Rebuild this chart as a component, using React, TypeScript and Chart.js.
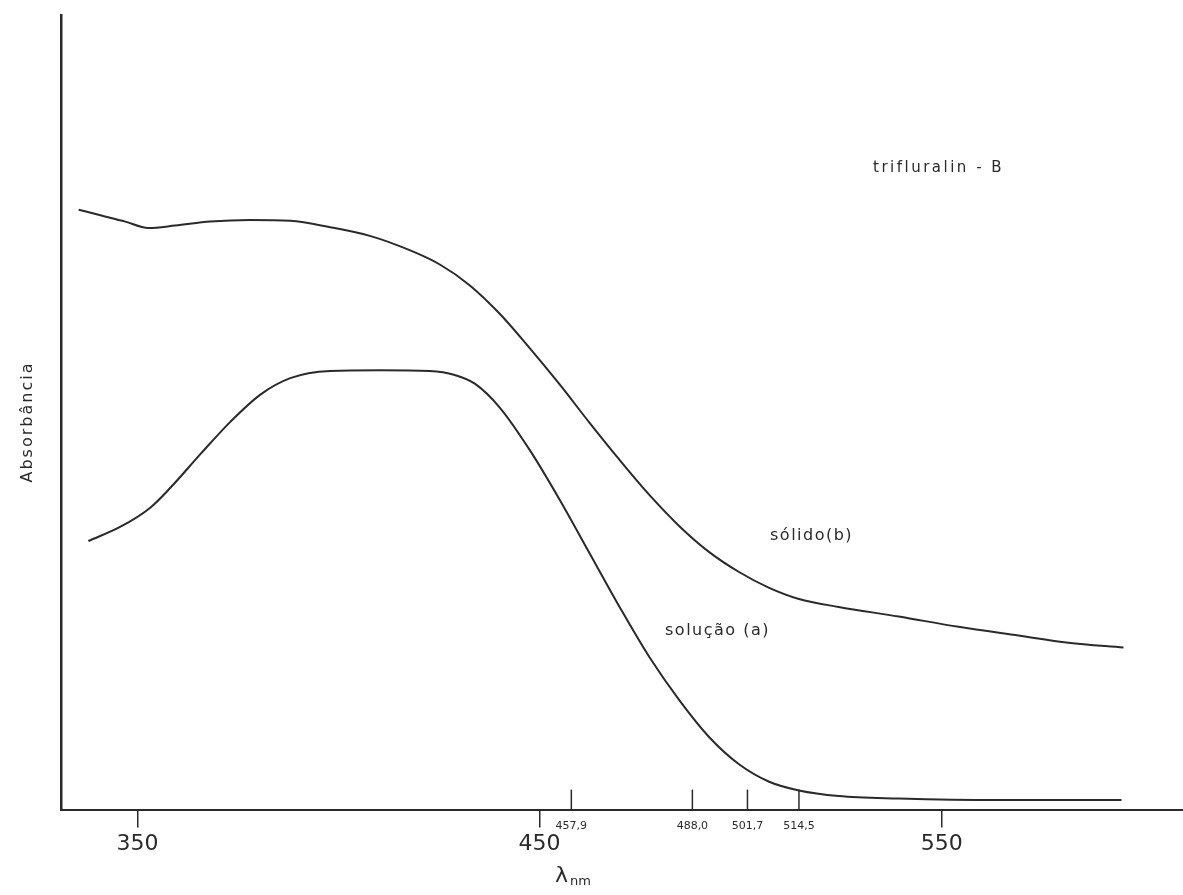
import React, { useEffect, useRef } from "react";
import { Chart, registerables } from "chart.js";

Chart.register(...registerables);

// wavelength (nm) of the sampled points
const solidoNm = [335.4, 340.8, 347.0, 352.7, 359.4, 368.1, 378.0, 388.0, 397.9, 407.8, 417.7, 425.2, 432.6, 440.1, 447.5, 455.0, 462.4, 469.9, 477.3, 484.7, 492.2, 499.6, 507.1, 514.5, 524.4, 539.3, 554.2, 569.1, 581.5, 595.2];
const solidoAbs = [0.755, 0.748, 0.740, 0.732, 0.735, 0.740, 0.742, 0.741, 0.733, 0.722, 0.704, 0.686, 0.660, 0.624, 0.581, 0.535, 0.487, 0.440, 0.396, 0.357, 0.324, 0.299, 0.279, 0.265, 0.255, 0.243, 0.230, 0.219, 0.210, 0.204];

const solucaoNm = [337.8, 345.8, 353.2, 358.2, 365.6, 373.1, 380.5, 388.0, 397.9, 410.3, 422.7, 428.9, 433.9, 440.1, 447.5, 455.0, 462.4, 469.9, 477.3, 484.7, 492.2, 499.6, 507.1, 514.5, 524.4, 539.3, 564.1, 594.7];
const solucaoAbs = [0.338, 0.356, 0.380, 0.405, 0.447, 0.488, 0.522, 0.543, 0.552, 0.553, 0.552, 0.547, 0.536, 0.506, 0.453, 0.390, 0.323, 0.255, 0.192, 0.138, 0.091, 0.057, 0.035, 0.024, 0.017, 0.014, 0.012, 0.012];

const axisTicks = [350, 450, 550];
const laserLines = [457.9, 488.0, 501.7, 514.5];

const seriesLabels = ["sólido(b)", "solução (a)"];
const titleText = "trifluralin - B";
const yTitle = "Absorbância";

const FONT = "'DejaVu Sans', 'Noto Sans', sans-serif";
const INK = "#2a2a2a";

const annotPlugin = {
  id: "annot",
  afterDraw(chart: any) {
    const ctx = chart.ctx;
    const xs = chart.scales.x;
    const area = chart.chartArea;
    ctx.save();
    ctx.fillStyle = INK;
    ctx.strokeStyle = INK;
    // laser lines: short ticks upward from the axis, with small labels
    ctx.lineWidth = 1.5;
    ctx.font = `11px ${FONT}`;
    ctx.textAlign = "center";
    ctx.textBaseline = "middle";
    laserLines.forEach((v) => {
      const px = xs.getPixelForValue(v);
      ctx.beginPath();
      ctx.moveTo(px, area.bottom);
      ctx.lineTo(px, area.bottom - 20);
      ctx.stroke();
      ctx.fillText(v.toFixed(1).replace(".", ","), px, area.bottom + 17);
    });
    // series labels & title
    ctx.textAlign = "left";
    ctx.font = `15px ${FONT}`;
    (ctx as any).letterSpacing = "2.5px";
    ctx.fillText(titleText, 873, 168);
    ctx.font = `16px ${FONT}`;
    (ctx as any).letterSpacing = "1.5px";
    ctx.fillText(seriesLabels[0], 770, 536);
    ctx.fillText(seriesLabels[1], 665, 631);
    // y title
    ctx.save();
    ctx.translate(28, 422);
    ctx.rotate(-Math.PI / 2);
    ctx.textAlign = "center";
    ctx.font = `16px ${FONT}`;
    (ctx as any).letterSpacing = "2px";
    ctx.fillText(yTitle, 0, 0);
    ctx.restore();
    (ctx as any).letterSpacing = "0px";
    // x title
    ctx.textAlign = "left";
    ctx.font = `22px ${FONT}`;
    ctx.fillText("λ", 555, 876);
    ctx.font = `13px ${FONT}`;
    ctx.fillText("nm", 570, 882);
    ctx.restore();
  },
};

export default function App() {
  const ref = useRef<HTMLCanvasElement | null>(null);
  useEffect(() => {
    if (!ref.current) return;
    const chart = new Chart(ref.current, {
      type: "line",
      data: {
        datasets: [
          {
            label: seriesLabels[0],
            data: solidoNm.map((x, i) => ({ x, y: solidoAbs[i] })),
            borderColor: INK,
            borderWidth: 2,
            pointRadius: 0,
            cubicInterpolationMode: "monotone",
            fill: false,
          },
          {
            label: seriesLabels[1],
            data: solucaoNm.map((x, i) => ({ x, y: solucaoAbs[i] })),
            borderColor: INK,
            borderWidth: 2,
            pointRadius: 0,
            cubicInterpolationMode: "monotone",
            fill: false,
          },
        ],
      },
      options: {
        responsive: false,
        animation: false,
        layout: { padding: { left: 61, right: 0, top: 15, bottom: 35 } },
        plugins: { legend: { display: false }, tooltip: { enabled: false } },
        scales: {
          x: {
            type: "linear",
            min: 331,
            max: 610,
            border: { display: true, color: INK, width: 2 },
            grid: { display: true, drawOnChartArea: false, drawTicks: true, tickLength: 18, color: INK, lineWidth: 1.5 },
            afterBuildTicks: (scale: any) => {
              scale.ticks = axisTicks.map((v) => ({ value: v }));
            },
            ticks: {
              autoSkip: false,
              maxRotation: 0,
              padding: 3,
              color: INK,
              font: { family: FONT, size: 22 },
              callback: (v: any) => String(v),
            },
          },
          y: {
            min: 0,
            max: 1,
            border: { display: true, color: INK, width: 2.5 },
            grid: { display: false },
            ticks: { display: false },
            afterFit: (scale: any) => {
              scale.width = 0;
            },
          },
        },
      },
      plugins: [annotPlugin],
    } as any);
    return () => chart.destroy();
  }, []);
  return (
    <div style={{ position: "fixed", left: 0, top: 0, width: 1183, height: 895, background: "#fff" }}>
      <canvas ref={ref} width={1183} height={895} style={{ width: 1183, height: 895 }} />
    </div>
  );
}
